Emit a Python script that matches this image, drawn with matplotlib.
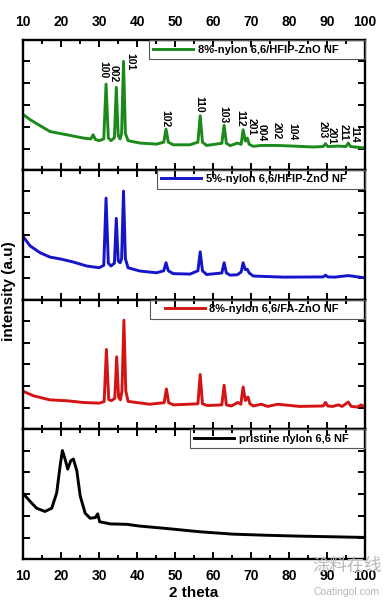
import matplotlib
matplotlib.use("Agg")
import matplotlib.pyplot as plt
from matplotlib.ticker import MultipleLocator
from matplotlib.patches import Rectangle

plt.rcParams['font.family'] = ['Liberation Sans', 'DejaVu Sans']
plt.rcParams['font.weight'] = 'bold'

# 8%-nylon 6,6/HFIP-ZnO NF (vert)
vert_x = [10, 11.8, 14, 17, 21.4, 25.8, 27.8, 28.4, 29, 30, 31.2, 31.8, 32.4, 33.1, 34.0, 34.5,
          35.0, 35.5, 35.9, 36.4, 36.9, 37.6, 40.7, 45.1, 47.0, 47.6, 48.2, 49.5, 53.9, 56.0,
          56.6, 57.2, 58.3, 62.3, 62.9, 63.5, 64.5, 66.4, 67.4, 67.9, 68.5, 69.0, 69.5, 70.6,
          72.6, 76.8, 81.2, 86.4, 89.0, 89.6, 90.2, 93.0, 95.0, 95.6, 96.2, 97.4, 100]
vert_y = [2.56, 2.33, 2.1, 1.79, 1.64, 1.49, 1.45, 1.64, 1.42, 1.37, 1.45, 3.96, 1.5, 1.37, 1.5, 3.81,
          1.6, 1.45, 1.7, 5.0, 1.7, 1.37, 1.26, 1.21, 1.3, 1.90, 1.3, 1.18, 1.18, 1.3,
          2.51, 1.3, 1.15, 1.25, 2.07, 1.25, 1.14, 1.26, 1.2, 1.87, 1.35, 1.49, 1.2, 1.11,
          1.15, 1.15, 1.12, 1.08, 1.1, 1.23, 1.1, 1.12, 1.1, 1.26, 1.1, 1.08, 1.03]

# 5%-nylon 6,6/HFIP-ZnO NF (bleu)
bleu_x = [10, 11.8, 14.4, 17, 20.1, 23.2, 26.7, 30, 31.2, 31.8, 32.4, 33.1, 34.0, 34.5, 35.0, 35.5,
          35.9, 36.4, 36.9, 37.6, 40.7, 45.1, 47.0, 47.6, 48.2, 49.5, 53.9, 56.0, 56.6, 57.2,
          58.3, 62.3, 62.9, 63.5, 64.5, 66.4, 67.4, 67.9, 68.5, 69.0, 69.5, 70.6, 78.5, 89.0,
          89.6, 90.2, 92, 95.6, 100]
bleu_y = [2.91, 2.49, 2.18, 1.98, 1.88, 1.75, 1.57, 1.49, 1.6, 4.68, 1.7, 1.57, 1.7, 3.75, 1.8, 1.72,
          1.9, 5.0, 1.9, 1.49, 1.34, 1.26, 1.35, 1.72, 1.35, 1.22, 1.2, 1.35, 2.22, 1.35,
          1.18, 1.25, 1.72, 1.25, 1.15, 1.17, 1.3, 1.72, 1.4, 1.42, 1.25, 1.11, 1.06, 1.07,
          1.15, 1.07, 1.06, 1.13, 1.03]

# 8%-nylon 6,6/FA-ZnO NF (rouge)
rouge_x = [10, 12.6, 17, 21.4, 25.8, 30, 31.3, 31.9, 32.5, 33.2, 34.1, 34.6, 35.1, 35.6, 36.0, 36.5,
           37.0, 37.6, 43.3, 47.1, 47.7, 48.3, 49.5, 56.0, 56.6, 57.2, 58.5, 62.3, 62.9, 63.5,
           64.8, 66.5, 67.3, 67.9, 68.5, 69.2, 69.7, 70.6, 72.7, 74.4, 77.0, 82.7, 89.0, 89.6,
           90.2, 91.5, 93.0, 94, 95.6, 96.4, 98, 99, 100]
rouge_y = [1.77, 1.57, 1.38, 1.34, 1.26, 1.23, 1.3, 3.69, 1.4, 1.34, 1.45, 3.35, 1.5, 1.38, 1.8, 5.03,
           1.8, 1.31, 1.18, 1.25, 1.88, 1.25, 1.15, 1.2, 2.54, 1.2, 1.12, 1.15, 2.05, 1.15,
           1.1, 1.26, 1.18, 1.97, 1.35, 1.51, 1.2, 1.1, 1.18, 1.08, 1.18, 1.08, 1.1, 1.26,
           1.1, 1.08, 1.15, 1.08, 1.28, 1.08, 1.05, 1.15, 1.05]

# pristine nylon 6,6 NF (noir)
noir_x = [10, 11.8, 13.5, 15.7, 17.5, 18.8, 19.7, 20.3, 21.0, 21.7, 22.5, 23.2, 24.1, 25.0, 26.3,
          27.6, 29.0, 29.6, 30.1, 32.9, 37.3, 40.7, 47.7, 56.5, 65.3, 74.0, 82.8, 91.6, 100]
noir_y = [3.03, 2.67, 2.36, 2.21, 2.36, 3.06, 4.30, 5.0, 4.61, 4.15, 4.53, 4.61, 4.07, 2.91, 2.13,
          1.90, 1.93, 2.10, 1.74, 1.64, 1.62, 1.54, 1.43, 1.28, 1.17, 1.12, 1.08, 1.05, 1.02]

series = [
    (vert_x, vert_y, '#1b8a1b', '8%-nylon 6,6/HFIP-ZnO NF'),
    (bleu_x, bleu_y, '#1414c8', '5%-nylon 6,6/HFIP-ZnO NF'),
    (rouge_x, rouge_y, '#d41414', '8%-nylon 6,6/FA-ZnO NF'),
    (noir_x, noir_y, '#000000', 'pristine nylon 6,6 NF'),
]
# marge a droite du texte de la legende (pixels) et marge gauche supplementaire du cadre
marge_leg = [22, 14, 22, 12]
marge_gauche = [0, 0, 10, 0]

# indices de Miller (panneau du haut)
hkl = ['100', '002', '101', '102', '110', '103', '112', '201', '004', '202', '104',
       '203', '201', '211', '114']
hkl_x = [31.1, 33.7, 38.1, 47.3, 56.3, 62.7, 67.3, 70.2, 72.8, 76.8, 80.9, 88.8, 91.2, 94.3, 97.2]
hkl_y = [5.0, 4.85, 5.38, 2.79, 3.40, 2.94, 2.76, 2.40, 2.13, 2.22, 2.16, 2.25, 1.98, 2.13, 2.02]

fig = plt.figure(figsize=(3.92, 6.09), dpi=100)
gs = fig.add_gridspec(4, 1, left=0.0594, right=0.931, top=0.934, bottom=0.082, hspace=0)
w_ax = 342.0

axes, legs = [], []
for i, (x, y, c, lab) in enumerate(series):
    ax = fig.add_subplot(gs[i])
    ax.plot(x, y, color=c, lw=2.1, label=lab)
    ax.set_xlim(10, 100)
    ax.set_ylim(0.03, 5.97)
    ax.xaxis.set_major_locator(MultipleLocator(10))
    ax.xaxis.set_minor_locator(MultipleLocator(5))
    ax.set_yticks([1, 2, 3, 4, 5])
    ax.tick_params(which='both', direction='in', top=True, bottom=True, left=True, right=True,
                   labelleft=False, labelbottom=False, labeltop=False, width=1.4)
    ax.tick_params(which='major', length=5)
    ax.tick_params(which='minor', length=3)
    for s in ax.spines.values():
        s.set_linewidth(1.7)
    leg = ax.legend(loc='upper right', bbox_to_anchor=(1 - marge_leg[i] / w_ax, 1),
                    borderaxespad=0, fancybox=False, handlelength=3.6, frameon=False,
                    prop={'weight': 'bold', 'size': 8}, borderpad=0.4, handletextpad=0.4)
    axes.append(ax)
    legs.append(leg)

axes[0].tick_params(which='major', labeltop=True, labelsize=10, pad=8)
axes[-1].tick_params(which='major', labelbottom=True, labelsize=10, pad=7)

for t, xx, yy in zip(hkl, hkl_x, hkl_y):
    axes[0].text(xx, yy, t, rotation=270, ha='center', va='top', fontsize=7.5, fontweight='bold')

axes[-1].set_xlabel('2 theta', fontsize=11, fontweight='bold', labelpad=2)
fig.text(0.023, 0.522, 'intensity (a.u)', rotation=90, ha='center', va='center',
         fontsize=11, fontweight='bold')

# cadres des legendes, du bord gauche de la legende jusqu'au bord droit de l'axe
fig.canvas.draw()
for i, (ax, leg) in enumerate(zip(axes, legs)):
    bb = leg.get_window_extent().transformed(ax.transAxes.inverted())
    x0 = bb.x0 - marge_gauche[i] / w_ax
    ax.add_patch(Rectangle((x0, bb.y0), 1 - x0, 1 - bb.y0, transform=ax.transAxes,
                           facecolor='none', edgecolor='#555555', lw=0.8, zorder=6,
                           clip_on=False))

# filigrane
fig.text(0.885, 0.0705, '涂料在线', family=['Noto Sans CJK SC', 'DejaVu Sans'], fontsize=12.5,
         color='#b8b8b8', ha='center', va='center', fontweight='normal')
fig.text(0.885, 0.028, 'Coatingol.com', fontsize=7.5, color='#b8b8b8', ha='center', va='center',
         fontweight='normal')

fig.savefig('out.png', dpi=100)
